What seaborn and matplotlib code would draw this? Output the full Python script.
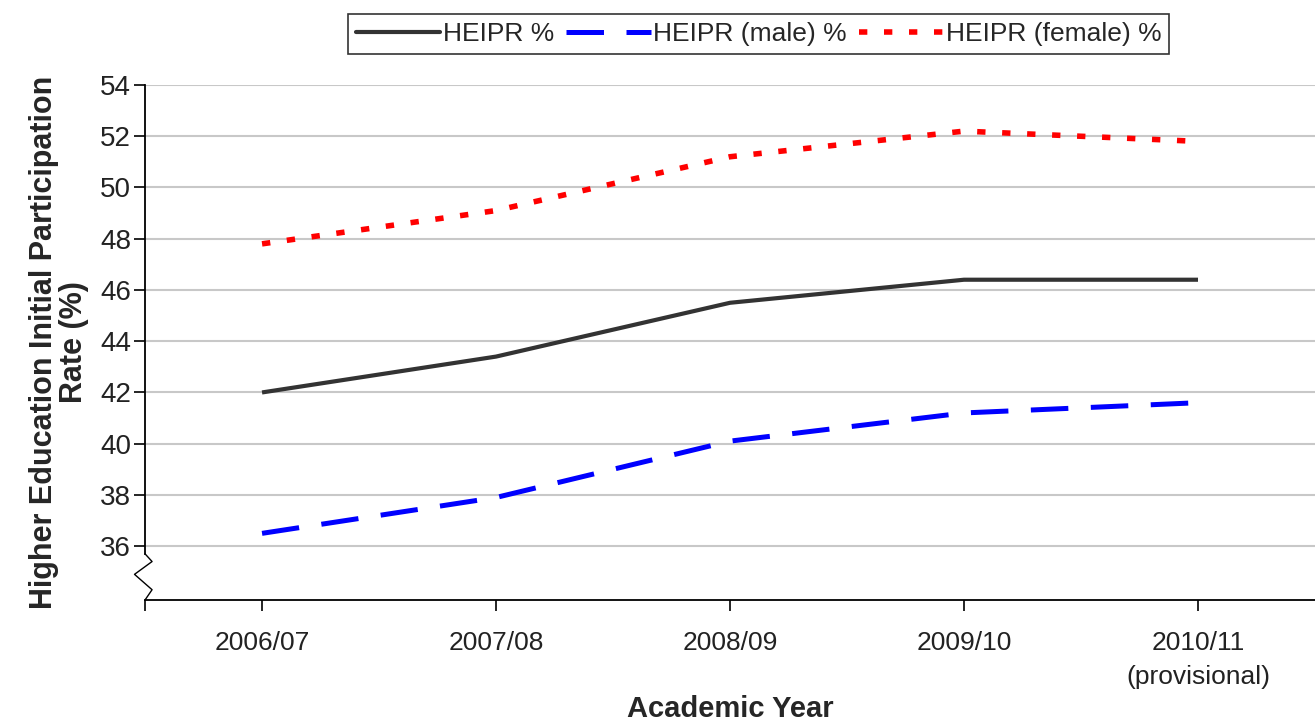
import matplotlib
matplotlib.use("Agg")
import matplotlib.pyplot as plt
import seaborn as sns
import pandas as pd

# data
years = ["2006/07", "2007/08", "2008/09", "2009/10", "2010/11"]
tick_labels = ["2006/07", "2007/08", "2008/09", "2009/10", "2010/11\n(provisional)"]
heipr = [42.0, 43.4, 45.5, 46.4, 46.4]
heipr_male = [36.5, 37.9, 40.1, 41.2, 41.6]
heipr_female = [47.8, 49.1, 51.2, 52.2, 51.8]
series_names = ["HEIPR %", "HEIPR (male) %", "HEIPR (female) %"]

df = pd.DataFrame({
    "year": years * 3,
    "value": heipr + heipr_male + heipr_female,
    "series": [series_names[0]] * 5 + [series_names[1]] * 5 + [series_names[2]] * 5,
})

sns.set_theme(style="white")
plt.rcParams["font.family"] = ["Liberation Sans", "DejaVu Sans"]

fig = plt.figure(figsize=(13.15, 7.26), dpi=100)
ax = fig.add_axes([0.1103, 0.1736, 0.8897, 0.7093])

palette = {series_names[0]: "#333333", series_names[1]: "#0000ff", series_names[2]: "#ff0000"}
dashes = {series_names[0]: "", series_names[1]: (7.5, 4.5), series_names[2]: (1.5, 3.0)}
widths = {series_names[0]: 3.0, series_names[1]: 3.6, series_names[2]: 4.0}

sns.lineplot(data=df, x="year", y="value", hue="series", style="series",
             palette=palette, dashes=dashes, ax=ax, sort=False, legend=True)
for line, name in zip(ax.get_lines(), series_names):
    line.set_linewidth(widths[name])
    line.set_dash_capstyle("butt")
    line.set_solid_capstyle("butt")

ax.set_xlim(-0.5, 4.5)
ax.set_ylim(33.9, 54)
ax.set_yticks(range(36, 55, 2))
ax.set_xticks(range(5))
ax.set_xticklabels(tick_labels)
ax.set_xticks([-0.5], minor=True)
ax.tick_params(axis="both", which="both", direction="out", length=8, width=1.2,
               color="black", labelsize=19, labelcolor="#222222",
               bottom=True, left=True)
ax.tick_params(axis="x", which="both", pad=14)
ax.tick_params(axis="y", pad=2, labelsize=20)
for lbl in ax.get_xticklabels():
    lbl.set_linespacing(1.55)
ax.grid(axis="y", color="#c8c8c8", linewidth=1.5)
ax.set_axisbelow(True)

for s in ["top", "right"]:
    ax.spines[s].set_visible(False)
for s in ["left", "bottom"]:
    ax.spines[s].set_color("black")
    ax.spines[s].set_linewidth(1.3)
ax.spines["left"].set_bounds(35.7, 54)

# axis break zigzag
tr = ax.get_yaxis_transform()
ax.plot([0, 0.006, -0.009, 0.006, 0], [35.7, 35.4, 34.9, 34.3, 33.9],
        transform=tr, color="black", linewidth=1.0, clip_on=False)

ax.set_xlabel("Academic Year", fontsize=21, fontweight="bold", labelpad=4)
ax.set_ylabel("Higher Education Initial Participation\nRate (%)", fontsize=22,
              fontweight="bold", labelpad=8, linespacing=1.0)

handles, labels = ax.get_legend_handles_labels()
ax.get_legend().remove()
leg = fig.legend(handles, labels, loc="center", bbox_to_anchor=(0.577, 0.953),
                 ncol=3, frameon=True, fancybox=False, fontsize=19,
                 handlelength=3.2, handletextpad=0.1, columnspacing=0.45,
                 borderpad=0.3, edgecolor="black")
leg.get_frame().set_linewidth(1.2)
for h, name in zip(leg.get_lines(), series_names):
    h.set_linewidth(widths[name])

fig.savefig("out.png", dpi=100)
